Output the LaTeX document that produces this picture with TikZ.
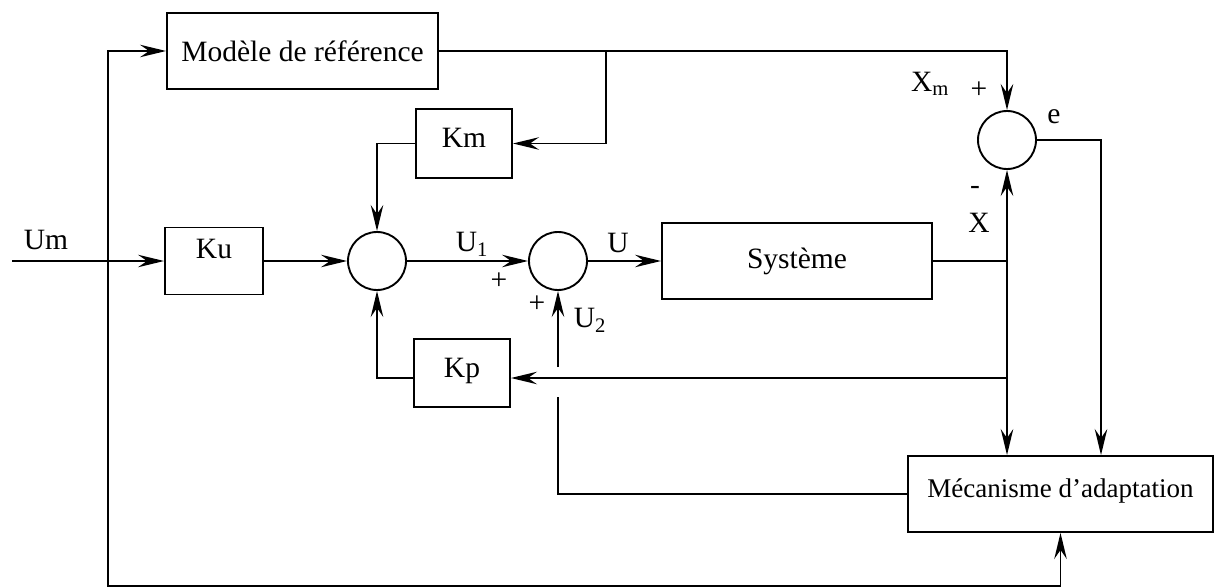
\documentclass[tikz,border=0pt]{standalone}
\usepackage{fontspec}
\setmainfont{Liberation Serif}
\usetikzlibrary{arrows.meta}
\begin{document}
\begin{tikzpicture}[x=1pt,y=-1pt,
  line width=1.9pt,
  font=\fontsize{29.5}{33}\selectfont,
  blk/.style={draw,line width=1.9pt,inner sep=0pt,rectangle},
  sumc/.style={draw,circle,minimum size=58pt,inner sep=0pt},
  arr/.style={-{Stealth[length=26pt,width=12.5pt,inset=9pt]}},
  lbl/.style={inner sep=0pt}
]
\useasboundingbox (0,0) rectangle (1220,588);

% blocks
\node[blk,minimum width=271pt,minimum height=76pt] (mod) at (302.5,51) {Modèle de référence};
\node[blk,minimum width=96pt,minimum height=69pt,text depth=11pt] (km) at (464,143.5) {Km};
\node[blk,minimum width=98pt,minimum height=67pt,text depth=24pt] (ku) at (214,261) {Ku};
\node[blk,minimum width=96pt,minimum height=68pt,text depth=10pt] (kp) at (462,373) {Kp};
\node[blk,minimum width=270pt,minimum height=76pt] (sys) at (797,261) {Système};
\node[blk,minimum width=305pt,minimum height=76pt,text depth=11pt,font=\fontsize{27}{30}\selectfont] (mec) at (1060.5,494) {Mécanisme d’adaptation};
\node[sumc] (s1) at (377,261) {};
\node[sumc] (s2) at (558,261) {};
\node[sumc] (s3) at (1007,140) {};

% coordinates
\coordinate (in) at (12,261);
\coordinate (lj) at (108,261);
\coordinate (bot) at (1060.5,586);
\coordinate (xj) at (1007,261);
\coordinate (kj) at (1007,378);
\coordinate (mj) at (606,51);
\coordinate (ej) at (1101,140);
\coordinate (ua) at (558,397);
\coordinate (ub) at (558,367);

% connectors
\draw[arr] (in) -- (ku.west);
\draw[arr] (lj) |- (mod.west);
\draw[arr] (lj) |- (bot) -- (mec.south);
\draw[arr] (ku.east) -- (s1.west);
\draw[arr] (s1.east) -- (s2.west);
\draw[arr] (s2.east) -- (sys.west);
\draw (sys.east) -- (xj);
\draw[arr] (xj) -- (s3.south);
\draw[arr] (xj) -- (xj |- mec.north);
\draw[arr] (kj) -- (kj -| kp.east);
\draw[arr] (kp.west |- kj) -| (s1.south);
\draw[arr] (mod.east) -| (s3.north);
\draw[arr] (mj) |- (km.east);
\draw[arr] (km.west) -| (s1.north);
\draw[arr] (s3.east) -- (ej) -- (ej |- mec.north);
\draw (mec.west) -| (ua);
\draw[arr] (ub) -- (s2.south);

% labels
\node[lbl] (lum) at (46,240) {Um};
\node[lbl] (lu1) at (472,244) {U\textsubscript{1}};
\node[lbl] (lu) at (618,243) {U};
\node[lbl] (lp1) at (499,281) {+};
\node[lbl] (lp2) at (537,304) {+};
\node[lbl] (lu2) at (590,320) {U\textsubscript{2}};
\node[lbl] (lxm) at (930,84) {X\textsubscript{m}};
\node[lbl] (lp3) at (979,90) {+};
\node[lbl] (le) at (1054,117) {e};
\node[lbl] (lm) at (975,190) {-};
\node[lbl] (lx) at (979,223) {X};
\end{tikzpicture}
\end{document}
